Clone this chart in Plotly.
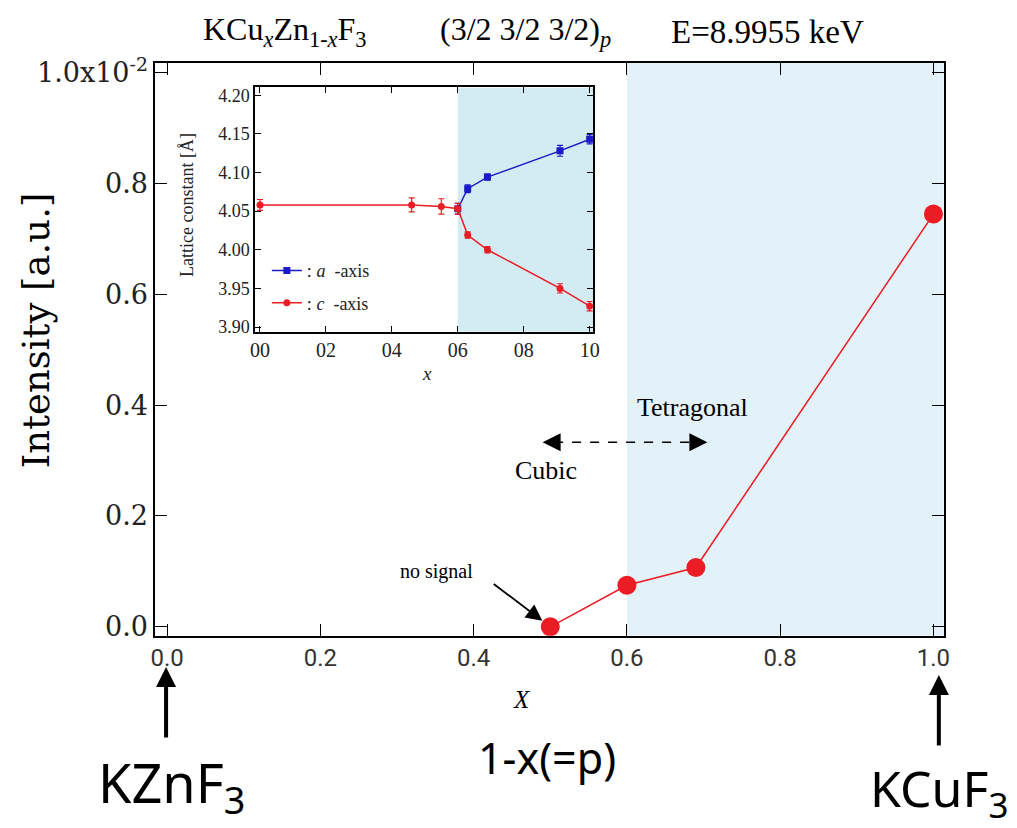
import plotly.graph_objects as go

# ---- main data ----
x_main = [0.5, 0.6, 0.69, 1.0]
y_main = [0.0, 0.075, 0.107, 0.745]   # intensity in units of 1e-2

y_tickvals = [0.0, 0.2, 0.4, 0.6, 0.8, 1.0]
y_ticktext = ["0.0", "0.2", "0.4", "0.6", "0.8", "1.0x10<sup>-2</sup>"]
x_tickvals = [0.0, 0.2, 0.4, 0.6, 0.8, 1.0]
x_ticktext = ["0.0", "0.2", "0.4", "0.6", "0.8", "1.0"]

# ---- inset data ----
x_c = [0.0, 0.46, 0.55, 0.60, 0.63, 0.69, 0.91, 1.0]
y_c = [4.058, 4.058, 4.056, 4.053, 4.019, 4.000, 3.950, 3.927]
e_c = [0.007, 0.009, 0.010, 0.007, 0.004, 0.004, 0.006, 0.006]
x_a = [0.60, 0.63, 0.69, 0.91, 1.0]
y_a = [4.053, 4.079, 4.094, 4.128, 4.143]
e_a = [0.007, 0.005, 0.004, 0.007, 0.006]
inset_xtickvals = [0.0, 0.2, 0.4, 0.6, 0.8, 1.0]
inset_xticktext = ["00", "02", "04", "06", "08", "10"]
inset_ytickvals = [3.90, 3.95, 4.00, 4.05, 4.10, 4.15, 4.20]
inset_yticktext = ["3.90", "3.95", "4.00", "4.05", "4.10", "4.15", "4.20"]

W, H = 1017, 828
def px(xp): return xp / W
def py(yp): return (H - yp) / H

RED = "#ec1c24"
BLUE = "#1a1ac8"
SERIF = "Liberation Serif"
HAND = "Noto Sans"

fig = go.Figure()

fig.add_trace(go.Scatter(
    x=x_main, y=y_main, mode="lines+markers",
    line=dict(color=RED, width=1.5),
    marker=dict(color=RED, size=19),
    showlegend=False, xaxis="x", yaxis="y"))

fig.add_trace(go.Scatter(
    x=x_a, y=y_a, mode="lines+markers", name=": <i>a</i>  -axis", legendgroup="a",
    line=dict(color=BLUE, width=1.5),
    marker=dict(color=BLUE, size=7, symbol="square"),
    error_y=dict(type="data", array=e_a, color=BLUE, thickness=1.2, width=3),
    xaxis="x2", yaxis="y2"))
fig.add_trace(go.Scatter(
    x=x_c, y=y_c, mode="lines+markers", name=": <i>c</i>  -axis", legendgroup="c",
    line=dict(color=RED, width=1.5),
    marker=dict(color=RED, size=7, symbol="circle"),
    error_y=dict(type="data", array=e_c, color=RED, thickness=1.2, width=3),
    xaxis="x2", yaxis="y2"))

xr_main = [-0.0155, 1.0135]
yr_main = [-0.016, 1.0177]
xr_in = [-0.015, 1.01]
yr_in = [3.894, 4.21]

shapes = [
    dict(type="rect", xref="x", yref="y", x0=0.6, x1=xr_main[1], y0=yr_main[0], y1=yr_main[1],
         fillcolor="#e2f2f8", line=dict(width=0), layer="below"),
    dict(type="rect", xref="x2", yref="y2", x0=0.6, x1=xr_in[1], y0=yr_in[0], y1=yr_in[1],
         fillcolor="#d3ebf3", line=dict(width=0), layer="below"),
    dict(type="line", xref="x", yref="y", x0=0.505, x1=0.69, y0=0.333, y1=0.333,
         line=dict(color="black", width=1.5, dash="dash")),
]

def txt(text, x, y, size, family=SERIF, angle=0, color="black", xref="paper", yref="paper"):
    return dict(text=text, xref=xref, yref=yref, x=x, y=y, showarrow=False,
                xanchor="center", yanchor="middle", textangle=angle,
                font=dict(family=family, size=size, color=color))

def arrow(x, y, ax, ay, width, size, xref="paper", yref="paper", standoff=0):
    return dict(text="", xref=xref, yref=yref, x=x, y=y, ax=ax, ay=ay, showarrow=True,
                arrowhead=2, arrowsize=size, arrowwidth=width, arrowcolor="black",
                standoff=standoff)

annotations = [
    txt("KCu<sub><i>x</i></sub>Zn<sub>1-<i>x</i></sub>F<sub>3</sub>", px(283), py(22), 32),
    txt("(3/2 3/2 3/2)<sub><i>p</i></sub>", px(527), py(22), 32),
    txt("E=8.9955 keV", px(772), py(22), 33),
    txt("Intensity [a.u.]", px(32), py(327), 37, family="DejaVu Serif", angle=-90),
    txt("<i>X</i>", px(523), py(703), 25),
    txt("Lattice constant [Å]", px(184), py(199), 18, angle=-90, color="#222"),
    txt("<i>x</i>", px(427), py(371), 19, color="#222"),
    txt("Tetragonal", 0.685, 0.396, 26, xref="x", yref="y"),
    txt("Cubic", 0.494, 0.282, 26, xref="x", yref="y"),
    txt("no signal", 0.351, 0.099, 20, xref="x", yref="y"),
    arrow(0.5, 0.0, -58, -44, 1.8, 1.8, xref="x", yref="y", standoff=10),
    arrow(0.49, 0.333, 12, 0, 1.5, 2.4, xref="x", yref="y"),
    arrow(0.705, 0.333, -12, 0, 1.5, 2.4, xref="x", yref="y"),
    arrow(px(163), py(670), 0, 72, 4, 1.0),
    arrow(px(945), py(678), 0, 72, 4, 1.0),
    txt("KZnF<sub>3</sub>", px(168), py(790), 54, family=HAND),
    txt("1-x(=p)", px(548), py(762), 43, family=HAND),
    txt("KCuF<sub>3</sub>", px(945), py(796), 50, family=HAND),
]

axis_common = dict(showgrid=False, zeroline=False, showline=True, linecolor="black",
                   mirror="ticks", ticks="inside", tickcolor="black")

fig.update_layout(
    width=W, height=H, margin=dict(l=0, r=0, t=0, b=0),
    paper_bgcolor="white", plot_bgcolor="white",
    xaxis=dict(domain=[px(152), px(950)], range=xr_main, tickvals=x_tickvals, ticktext=x_ticktext,
               linewidth=1.8, ticklen=12, tickwidth=1.2,
               tickfont=dict(family="Roboto", size=24, color="#333"), **axis_common),
    yaxis=dict(domain=[py(638), py(54)], range=yr_main, tickvals=y_tickvals, ticktext=y_ticktext,
               linewidth=1.8, ticklen=12, tickwidth=1.2,
               tickfont=dict(family="DejaVu Serif", size=27, color="#222"), **axis_common),
    xaxis2=dict(domain=[px(253), px(595)], range=xr_in, anchor="y2",
                tickvals=inset_xtickvals, ticktext=inset_xticktext,
                linewidth=1.5, ticklen=6, tickwidth=1,
                tickfont=dict(family=SERIF, size=20, color="#222"), **axis_common),
    yaxis2=dict(domain=[py(328), py(79)], range=yr_in, anchor="x2",
                tickvals=inset_ytickvals, ticktext=inset_yticktext,
                linewidth=1.5, ticklen=6, tickwidth=1,
                tickfont=dict(family=SERIF, size=18, color="#222"), **axis_common),
    shapes=shapes, annotations=annotations,
    showlegend=True,
    legend=dict(x=px(265), y=py(247), xanchor="left", yanchor="top",
                bgcolor="rgba(0,0,0,0)", font=dict(family=SERIF, size=18, color="#222"),
                traceorder="grouped", tracegroupgap=6, itemwidth=30),
)

fig.write_html("out.html", config={"displayModeBar": False},
               post_script="document.body.style.margin='0px';")
